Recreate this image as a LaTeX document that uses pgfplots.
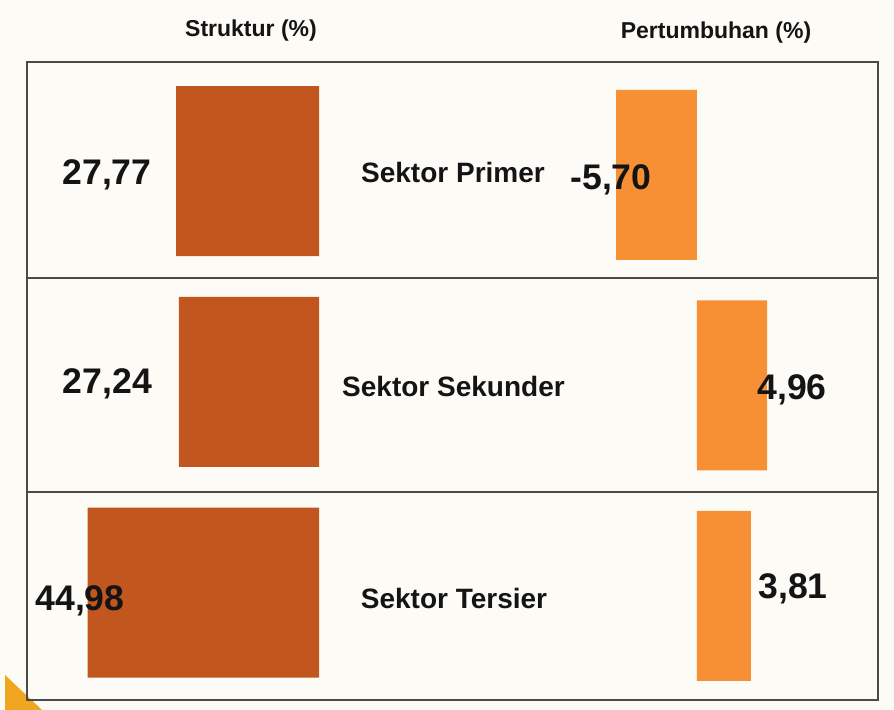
\documentclass[border=0pt]{standalone}
\usepackage{pgfplots}
\pgfplotsset{compat=1.18}
\usepackage{fontspec}
\setmainfont{Liberation Sans}
\definecolor{bg}{HTML}{FDFBF5}
\definecolor{dark}{HTML}{C1561F}
\definecolor{lite}{HTML}{F78F34}
\definecolor{tri}{HTML}{F0A61E}
\definecolor{frame}{HTML}{4A4A4A}
\definecolor{txt}{HTML}{141414}
\begin{document}
\begin{tikzpicture}[x=0.5pt,y=0.5pt]
\useasboundingbox (0,0) rectangle (894,710);
\fill[bg] (0,0) rectangle (894,710);
\fill[tri] (5,35) -- (5,0) -- (42,0) -- cycle;
\begin{axis}[at={(5.15pt,6.05pt)}, anchor=south west, scale only axis,
  width=154.35pt, height=316.125pt, xmin=-60, xmax=0, ymin=-0.5, ymax=2.5,
  hide axis, xbar, bar width=85pt]
\addplot[fill=dark, draw=none] coordinates {(-27.77,2) (-27.24,1) (-44.98,0)};
\end{axis}
\begin{axis}[at={(291.8pt,4.375pt)}, anchor=south west, scale only axis,
  width=113.36pt, height=315.75pt, xmin=-8, xmax=8, ymin=-0.5, ymax=2.5,
  hide axis, xbar, bar width=85pt]
\addplot[fill=lite, draw=none] coordinates {(-5.70,2) (4.96,1) (3.81,0)};
\end{axis}
\draw[frame, line width=1.2pt] (27,648) rectangle (878,10);
\draw[frame, line width=1.2pt] (27,432) -- (878,432);
\draw[frame, line width=1.2pt] (27,218) -- (878,218);
\begin{scope}[every node/.style={inner sep=0pt, text=txt, font=\bfseries}]
\node[font=\fontsize{11.5}{13}\selectfont\bfseries] at (251,679) {Struktur (\%)};
\node[font=\fontsize{11.5}{13}\selectfont\bfseries] at (716,677) {Pertumbuhan (\%)};
\node[font=\fontsize{17.8}{20}\selectfont\bfseries] at (107,535) {27,77};
\node[font=\fontsize{17.8}{20}\selectfont\bfseries] at (107.5,326) {27,24};
\node[font=\fontsize{17.8}{20}\selectfont\bfseries] at (80,109) {44,98};
\node[font=\fontsize{17.8}{20}\selectfont\bfseries] at (611,530) {-5,70};
\node[font=\fontsize{17.8}{20}\selectfont\bfseries] at (792,320) {4,96};
\node[font=\fontsize{17.8}{20}\selectfont\bfseries] at (793,121) {3,81};
\node[font=\fontsize{14}{16}\selectfont\bfseries] at (453,537) {Sektor Primer};
\node[font=\fontsize{14}{16}\selectfont\bfseries] at (453.5,323) {Sektor Sekunder};
\node[font=\fontsize{14}{16}\selectfont\bfseries] at (454,111) {Sektor Tersier};
\end{scope}
\end{tikzpicture}
\end{document}
